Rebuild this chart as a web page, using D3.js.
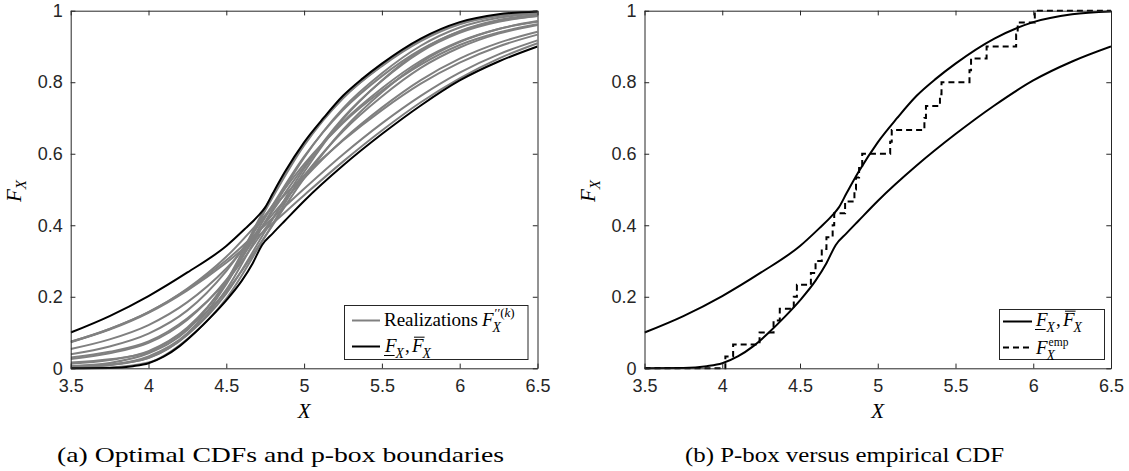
<!DOCTYPE html>
<html>
<head>
<meta charset="utf-8">
<script src="https://cdn.jsdelivr.net/npm/d3@7"></script>
<style>
  body { margin: 0; background: #fff; }
  svg { display: block; }
  .tick-label { font-family: "Liberation Sans", Arial, sans-serif; font-size: 18px; fill: #262626; }
  .serif { font-family: "Liberation Serif", "Times New Roman", serif; fill: #000; }
</style>
</head>
<body>
<div id="container"></div>
<script>
// ---- data ----
var xTicks = [3.5, 4, 4.5, 5, 5.5, 6, 6.5];
var yTicks = [0, 0.2, 0.4, 0.6, 0.8, 1];
var yTickLabels = ["0", "0.2", "0.4", "0.6", "0.8", "1"];

// upper p-box boundary (kink near x = 4.75)
var upperX = [3.5, 3.75, 4.0, 4.25, 4.5, 4.625, 4.7, 4.75, 4.8, 4.875, 5.0, 5.125, 5.25, 5.375, 5.5, 5.75, 6.0, 6.25, 6.5];
var upperF = [0.100, 0.146, 0.202, 0.268, 0.342, 0.392, 0.424, 0.450, 0.490, 0.548, 0.632, 0.700, 0.762, 0.810, 0.852, 0.922, 0.968, 0.990, 0.998];

// lower p-box boundary (kink near x = 4.73)
var lowerX = [3.5, 3.75, 3.9, 4.0, 4.1, 4.2, 4.3, 4.4, 4.5, 4.6, 4.67, 4.73, 4.8, 4.875, 5.0, 5.25, 5.5, 5.75, 6.0, 6.25, 6.5];
var lowerF = [0.000, 0.001, 0.006, 0.014, 0.033, 0.062, 0.100, 0.143, 0.190, 0.245, 0.294, 0.345, 0.378, 0.412, 0.468, 0.567, 0.655, 0.735, 0.805, 0.858, 0.900];

// grey realizations, sampled on realX
var realX = [3.5, 3.75, 4.0, 4.25, 4.5, 4.75, 5.0, 5.25, 5.5, 5.75, 6.0, 6.25, 6.5];
var real01 = [0.074, 0.110, 0.157, 0.221, 0.302, 0.401, 0.502, 0.598, 0.685, 0.762, 0.827, 0.878, 0.917];
var real02 = [0.073, 0.108, 0.155, 0.218, 0.295, 0.387, 0.484, 0.578, 0.665, 0.744, 0.811, 0.866, 0.909];
var real03 = [0.039, 0.061, 0.097, 0.162, 0.272, 0.427, 0.571, 0.686, 0.776, 0.849, 0.904, 0.939, 0.962];
var real04 = [0.030, 0.046, 0.075, 0.140, 0.243, 0.391, 0.539, 0.663, 0.760, 0.840, 0.897, 0.936, 0.960];
var real05 = [0.026, 0.042, 0.071, 0.136, 0.247, 0.409, 0.564, 0.689, 0.783, 0.860, 0.914, 0.949, 0.969];
var real06 = [0.054, 0.081, 0.121, 0.185, 0.279, 0.406, 0.531, 0.639, 0.729, 0.806, 0.866, 0.910, 0.941];
var real07 = [0.013, 0.023, 0.048, 0.114, 0.238, 0.422, 0.592, 0.722, 0.817, 0.891, 0.942, 0.971, 0.985];
var real08 = [0.006, 0.011, 0.029, 0.094, 0.209, 0.383, 0.558, 0.700, 0.804, 0.885, 0.938, 0.969, 0.985];
var real09 = [0.002, 0.009, 0.033, 0.098, 0.235, 0.441, 0.623, 0.755, 0.847, 0.918, 0.965, 0.988, 0.997];
var real10 = [0.003, 0.009, 0.029, 0.094, 0.220, 0.410, 0.589, 0.727, 0.825, 0.902, 0.953, 0.980, 0.992];
var real11 = [0.000, 0.002, 0.016, 0.082, 0.195, 0.369, 0.549, 0.697, 0.805, 0.889, 0.943, 0.974, 0.989];
var real12 = [0.006, 0.015, 0.042, 0.107, 0.244, 0.449, 0.627, 0.756, 0.845, 0.915, 0.962, 0.985, 0.995];
var real13 = [0.016, 0.025, 0.046, 0.111, 0.215, 0.369, 0.531, 0.667, 0.772, 0.855, 0.912, 0.949, 0.971];
var real14 = [0.074, 0.110, 0.157, 0.223, 0.312, 0.428, 0.539, 0.637, 0.722, 0.796, 0.855, 0.900, 0.933];
var realizations = [real01, real02, real03, real04, real05, real06, real07, real08, real09, real10, real11, real12, real13, real14];

// sorted samples behind the empirical CDF (30 samples)
var empSamples = [4.02, 4.07, 4.24, 4.33, 4.37, 4.46, 4.48, 4.57, 4.60, 4.64,
                  4.67, 4.71, 4.72, 4.79, 4.85, 4.86, 4.88, 4.90, 5.08, 5.09,
                  5.30, 5.31, 5.40, 5.41, 5.59, 5.60, 5.70, 5.89, 5.90, 6.01];

var captionA = "(a) Optimal CDFs and p-box boundaries";
var captionB = "(b) P-box versus empirical CDF";

// ---- layout ----
var W = 1129, H = 471;
var yTop = 10.7, yBottom = 368.3;
var panels = [
    { id: "a", left: 70.7, right: 537.5 },
    { id: "b", left: 644.5, right: 1111 }
];

var svg = d3.select("#container").append("svg")
    .attr("width", W).attr("height", H);

function zip(xs, ys) { return xs.map(function (x, i) { return [x, ys[i]]; }); }

function fLabel(g, x, y, size, deco) {
    // italic F with optional under/over bar; returns end x
    var f = g.append("text").attr("class", "serif").attr("x", x).attr("y", y)
        .style("font-size", size + "px").style("font-style", "italic").text("F");
    var fw = f.node().getComputedTextLength();
    if (deco === "under") {
        g.append("line").attr("x1", x - 1).attr("x2", x + fw - 2).attr("y1", y + 3.5).attr("y2", y + 3.5)
            .attr("stroke", "#000").attr("stroke-width", 1);
    } else if (deco === "over") {
        g.append("line").attr("x1", x + 2).attr("x2", x + fw + 1).attr("y1", y - size * 0.78).attr("y2", y - size * 0.78)
            .attr("stroke", "#000").attr("stroke-width", 1);
    }
    return x + fw;
}

function subX(g, x, y, size) {
    var t = g.append("text").attr("class", "serif").attr("x", x).attr("y", y + size * 0.3)
        .style("font-size", (size * 0.72) + "px").style("font-style", "italic").text("X");
    return x + t.node().getComputedTextLength();
}

function drawPanel(p) {
    var x = d3.scaleLinear().domain([3.5, 6.5]).range([p.left, p.right]);
    var y = d3.scaleLinear().domain([0, 1]).range([yBottom, yTop]);
    var g = svg.append("g");

    var clipId = "clip-" + p.id;
    svg.append("clipPath").attr("id", clipId).append("rect")
        .attr("x", p.left).attr("y", yTop - 2).attr("width", p.right - p.left).attr("height", yBottom - yTop + 4);

    var line = d3.line().x(function (d) { return x(d[0]); }).y(function (d) { return y(d[1]); })
        .curve(d3.curveMonotoneX);

    var plot = g.append("g").attr("clip-path", "url(#" + clipId + ")");

    if (p.id === "a") {
        plot.selectAll("path.real").data(realizations).enter().append("path")
            .attr("class", "real")
            .attr("d", function (d) { return line(zip(realX, d)); })
            .attr("fill", "none").attr("stroke", "#808080").attr("stroke-width", 2);
    }

    plot.append("path").attr("d", line(zip(upperX, upperF)))
        .attr("fill", "none").attr("stroke", "#000").attr("stroke-width", 2);
    plot.append("path").attr("d", line(zip(lowerX, lowerF)))
        .attr("fill", "none").attr("stroke", "#000").attr("stroke-width", 2);

    if (p.id === "b") {
        var emp = [[3.5, 0]];
        empSamples.forEach(function (s, i) { emp.push([s, (i + 1) / empSamples.length]); });
        emp.push([6.5, 1]);
        var step = d3.line().x(function (d) { return x(d[0]); }).y(function (d) { return y(d[1]); })
            .curve(d3.curveStepAfter);
        plot.append("path").attr("d", step(emp))
            .attr("fill", "none").attr("stroke", "#000").attr("stroke-width", 2)
            .attr("stroke-dasharray", "6,4");
    }

    // axes: box with inward ticks on every side
    var axisColor = "#262626";
    var tl = 4.7;
    var axB = g.append("g").attr("transform", "translate(0," + yBottom + ")")
        .call(d3.axisBottom(x).tickValues(xTicks).tickSizeInner(-tl).tickSizeOuter(0).tickPadding(11)
            .tickFormat(d3.format("")));
    var axT = g.append("g").attr("transform", "translate(0," + yTop + ")")
        .call(d3.axisTop(x).tickValues(xTicks).tickSizeInner(-tl).tickSizeOuter(0).tickFormat(""));
    var axL = g.append("g").attr("transform", "translate(" + p.left + ",0)")
        .call(d3.axisLeft(y).tickValues(yTicks).tickSizeInner(-tl).tickSizeOuter(0).tickPadding(8)
            .tickFormat(function (d, i) { return yTickLabels[i]; }));
    var axR = g.append("g").attr("transform", "translate(" + p.right + ",0)")
        .call(d3.axisRight(y).tickValues(yTicks).tickSizeInner(-tl).tickSizeOuter(0).tickFormat(""));

    [axB, axT, axL, axR].forEach(function (a) {
        a.select(".domain").attr("stroke", axisColor);
        a.selectAll(".tick line").attr("stroke", axisColor);
        a.selectAll(".tick text").attr("class", "tick-label").attr("font-family", null).attr("font-size", null);
    });
    axB.selectAll(".tick text").attr("dy", "0.71em");

    // axis labels
    var cx = (p.left + p.right) / 2;
    g.append("text").attr("class", "serif").attr("x", cx).attr("y", 418)
        .attr("text-anchor", "middle").style("font-size", "21px").style("font-style", "italic").text("X");

    var yl = g.append("text").attr("class", "serif")
        .attr("transform", "translate(" + (p.left - 50) + ",191) rotate(-90)")
        .attr("text-anchor", "middle").style("font-size", "21px").style("font-style", "italic");
    yl.append("tspan").text("F");
    yl.append("tspan").attr("dy", 5).style("font-size", "15px").text("X");

    // caption
    g.append("text").attr("class", "serif")
        .attr("x", p.id === "a" ? 57 : 685).attr("y", 462)
        .attr("textLength", p.id === "a" ? 447 : 319).attr("lengthAdjust", "spacingAndGlyphs")
        .style("font-size", "21px").text(p.id === "a" ? captionA : captionB);

    // legend
    var lg = g.append("g");
    var fs = 19;
    if (p.id === "a") {
        lg.append("rect").attr("x", 344.5).attr("y", 305.5).attr("width", 183.5).attr("height", 54)
            .attr("fill", "#fff").attr("stroke", axisColor).attr("stroke-width", 1);
        lg.append("line").attr("x1", 352).attr("x2", 380).attr("y1", 320.5).attr("y2", 320.5)
            .attr("stroke", "#808080").attr("stroke-width", 2);
        lg.append("line").attr("x1", 352).attr("x2", 380).attr("y1", 346.5).attr("y2", 346.5)
            .attr("stroke", "#000").attr("stroke-width", 2);
        var t1 = lg.append("text").attr("class", "serif").attr("x", 384).attr("y", 326)
            .style("font-size", fs + "px").text("Realizations ");
        var xe = 384 + t1.node().getComputedTextLength() + 4;
        xe = fLabel(lg, xe, 326, fs, null);
        var sup = lg.append("text").attr("class", "serif").attr("x", xe + 1).attr("y", 317)
            .style("font-size", "13px");
        sup.append("tspan").text("\u2032\u2032(");
        sup.append("tspan").style("font-style", "italic").text("k");
        sup.append("tspan").text(")");
        subX(lg, xe - 1, 326, fs);

        var e2 = fLabel(lg, 385, 352, fs, "under");
        e2 = subX(lg, e2 - 1, 352, fs);
        lg.append("text").attr("class", "serif").attr("x", e2 + 1).attr("y", 352).style("font-size", fs + "px").text(",");
        e2 = fLabel(lg, e2 + 8, 352, fs, "over");
        subX(lg, e2 - 1, 352, fs);
    } else {
        lg.append("rect").attr("x", 999.5).attr("y", 309.5).attr("width", 105).attr("height", 50)
            .attr("fill", "#fff").attr("stroke", axisColor).attr("stroke-width", 1);
        lg.append("line").attr("x1", 1003).attr("x2", 1032).attr("y1", 321.5).attr("y2", 321.5)
            .attr("stroke", "#000").attr("stroke-width", 2);
        lg.append("line").attr("x1", 1003).attr("x2", 1032).attr("y1", 347.5).attr("y2", 347.5)
            .attr("stroke", "#000").attr("stroke-width", 2).attr("stroke-dasharray", "6,4");

        var e3 = fLabel(lg, 1036, 326, fs, "under");
        e3 = subX(lg, e3 - 1, 326, fs);
        lg.append("text").attr("class", "serif").attr("x", e3 + 1).attr("y", 326).style("font-size", fs + "px").text(",");
        e3 = fLabel(lg, e3 + 8, 326, fs, "over");
        subX(lg, e3 - 1, 326, fs);

        var e4 = fLabel(lg, 1036, 354, fs, null);
        lg.append("text").attr("class", "serif").attr("x", e4 + 1).attr("y", 346)
            .style("font-size", "11.5px").text("emp");
        subX(lg, e4 - 1, 354, fs);
    }
}

panels.forEach(drawPanel);
</script>
</body>
</html>
